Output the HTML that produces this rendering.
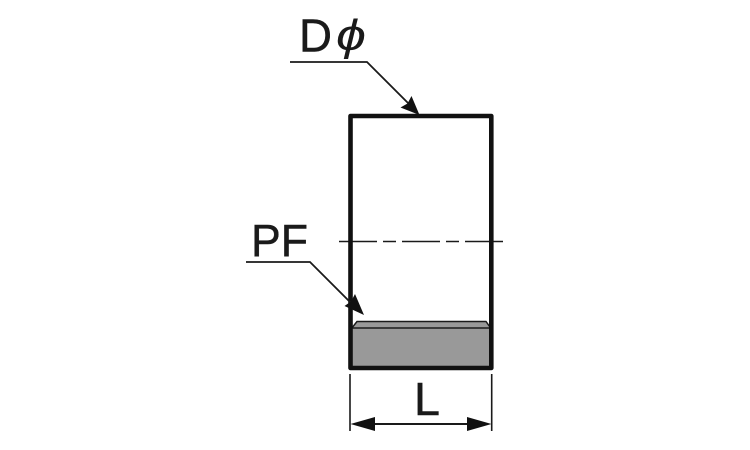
<!DOCTYPE html>
<html>
<head>
<meta charset="utf-8">
<style>
html,body{margin:0;padding:0;background:#fff;width:750px;height:450px;overflow:hidden}
svg{display:block}
text{font-family:"Liberation Sans",sans-serif;fill:#1a1a1a;stroke:#1a1a1a;stroke-width:.45}
</style>
</head>
<body>
<svg width="750" height="450" viewBox="0 0 750 450" xmlns="http://www.w3.org/2000/svg">
  <!-- gray fill -->
  <polygon points="352,328 357,321.5 486,321.5 491,328 491,367 352,367" fill="#999999"/>
  <polyline points="351.5,328.5 357,321.5 486,321.5 491,328.5" fill="none" stroke="#1a1a1a" stroke-width="1.5"/>
  <line x1="351" y1="328" x2="491" y2="328" stroke="#1a1a1a" stroke-width="1.5"/>
  <!-- centre line -->
  <line x1="339" y1="241.5" x2="504" y2="241.5" stroke="#1a1a1a" stroke-width="1.6" stroke-dasharray="38 6 13 6"/>
  <!-- body -->
  <rect x="350.5" y="116" width="140.8" height="252" fill="none" stroke="#111" stroke-width="4.6" stroke-linejoin="round"/>
  <!-- D phi leader -->
  <polyline points="290,62 367,62 412,107" fill="none" stroke="#1a1a1a" stroke-width="1.8"/>
  <polygon points="419.5,115 400.5,107.5 407.5,103.5 411.5,96" fill="#111"/>
  <!-- PF leader -->
  <polyline points="246,262 310,262 351,303" fill="none" stroke="#1a1a1a" stroke-width="1.8"/>
  <polygon points="364,315 344.5,306 351,301.5 355,294" fill="#111"/>
  <!-- dimension L -->
  <line x1="350" y1="374" x2="350" y2="431" stroke="#1a1a1a" stroke-width="1.6"/>
  <line x1="491.7" y1="374" x2="491.7" y2="431" stroke="#1a1a1a" stroke-width="1.6"/>
  <line x1="370" y1="424" x2="472" y2="424" stroke="#1a1a1a" stroke-width="2"/>
  <polygon points="350.5,424 375,417 375,431" fill="#111"/>
  <polygon points="491.5,424 467,417 467,431" fill="#111"/>
  <!-- labels -->
  <text x="299" y="51.5" font-size="46" textLength="33" lengthAdjust="spacingAndGlyphs">D</text>
  <text x="336" y="50" font-size="44" font-style="italic" textLength="30" lengthAdjust="spacingAndGlyphs" style="stroke-width:0">ϕ</text>
  <text x="251" y="256" font-size="45" textLength="57" lengthAdjust="spacingAndGlyphs">PF</text>
  <text x="414" y="415" font-size="46" textLength="26" lengthAdjust="spacingAndGlyphs">L</text>
</svg>
</body>
</html>
